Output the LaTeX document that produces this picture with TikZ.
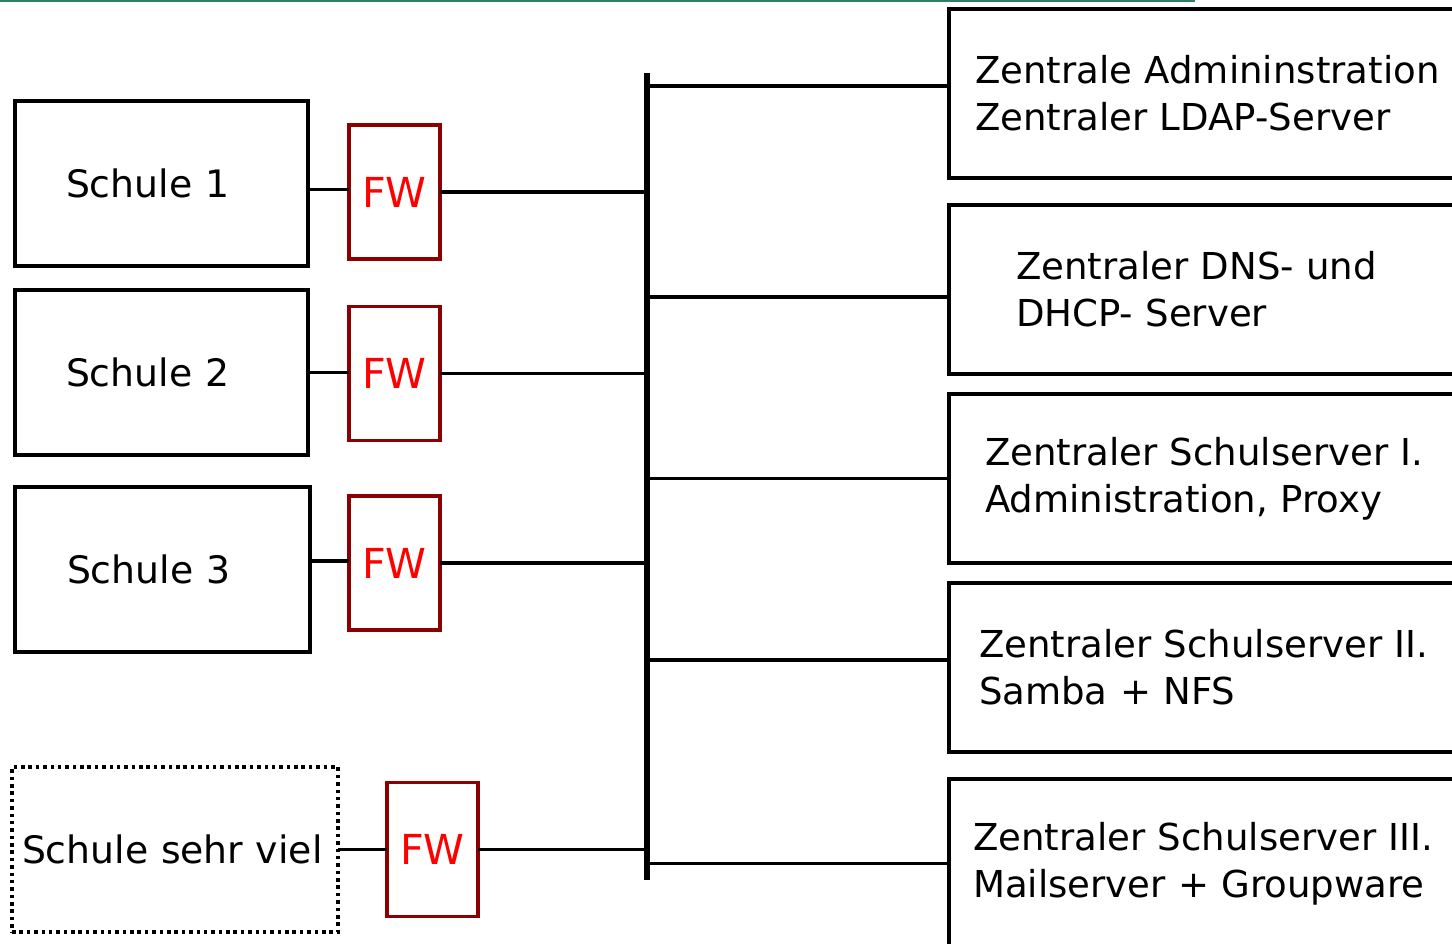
\documentclass[tikz,border=0pt]{standalone}
\usepackage{fontspec}
\setmainfont{DejaVu Sans}
\usetikzlibrary{positioning}
\definecolor{fwframe}{HTML}{8B0000}
\definecolor{fwtext}{HTML}{FF0000}
\definecolor{topline}{HTML}{2E8060}
\tikzset{
  schule/.style={draw,line width=2.2pt,anchor=west,outer sep=0pt,minimum height=3.3cm,
    inner xsep=1.02cm,text width=3.82cm,align=left,font=\fontsize{21.5}{27}\selectfont},
  viele/.style={schule,dash pattern=on 2pt off 2.2pt,inner xsep=.2cm,text width=6.12cm},
  firewall/.style={draw=fwframe,line width=2.2pt,minimum width=1.82cm,minimum height=2.68cm,
    inner sep=0pt,outer sep=0pt,text=fwtext,font=\fontsize{23.5}{28}\selectfont},
  zentral/.style={draw,line width=2.2pt,anchor=west,outer sep=0pt,minimum height=3.38cm,
    text width=10cm,align=left,font=\fontsize{21.1}{26.8}\selectfont},
  link/.style={line width=2.2pt},
  bus/.style={line width=3pt},
}
\begin{document}
\begin{tikzpicture}
  \useasboundingbox (0,0) rectangle (29.04,-18.88);
  \clip (0,0) rectangle (29.04,-18.88);
  \draw[topline,line width=2pt] (0,-.01) -- (23.9,-.01);
  % Schulen
  \node[schule] (s1) at (.3,-3.67) {Schule 1};
  \node[schule] (s2) at (.3,-7.45) {Schule 2};
  \node[schule,inner xsep=1.04cm] (s3) at (.3,-11.39) {Schule 3};
  \node[viele] (sv) at (.24,-16.99) {Schule sehr viel};
  % Firewalls
  \node[firewall] (fw1) at (7.89,-3.84) {FW};
  \node[firewall] (fw2) at (7.89,-7.47) {FW};
  \node[firewall] (fw3) at (7.89,-11.26) {FW};
  \node[firewall] (fw4) at (8.65,-16.99) {FW};
  % Server
  \node[zentral,inner xsep=.52cm] (z1) at (18.98,-1.87) {Zentrale Admininstration\\Zentraler LDAP-Server};
  \node[zentral,inner xsep=1.34cm] (z2) at (18.98,-5.79) {Zentraler DNS- und\\DHCP- Server};
  \node[zentral,inner xsep=.72cm] (z3) at (18.98,-9.57) {Zentraler Schulserver I.\\Administration, Proxy};
  \node[zentral,inner xsep=.6cm] (z4) at (18.98,-13.35) {Zentraler Schulserver II.\\Samba + NFS};
  \node[zentral,inner xsep=.48cm] (z5) at (18.98,-17.27) {Zentraler Schulserver III.\\Mailserver + Groupware};
  % Bus
  \coordinate (bustop) at (12.94,-1.46);
  \coordinate (busbot) at (12.94,-17.6);
  \draw[bus] (bustop) -- (busbot);
  % Verbindungen
  \draw[link] ([yshift=-.12cm]s1.east) -- ([yshift=-.12cm]s1.east -| fw1.west);
  \draw[link] (s2.east) -- (s2.east -| fw2.west);
  \draw[link] ([yshift=.17cm]s3.east) -- ([yshift=.17cm]s3.east -| fw3.west);
  \draw[link] (sv.east) -- (fw4.west);
  \foreach \f in {fw1,fw2,fw3,fw4}
    \draw[link] (\f.east) -- (\f.east -| bustop);
  \draw[link] ([yshift=.15cm]z1.west -| bustop) -- ([yshift=.15cm]z1.west);
  \draw[link] ([yshift=-.15cm]z2.west -| bustop) -- ([yshift=-.15cm]z2.west);
  \draw[link] (z3.west -| bustop) -- (z3.west);
  \draw[link] ([yshift=.15cm]z4.west -| bustop) -- ([yshift=.15cm]z4.west);
  \draw[link] (z5.west -| bustop) -- (z5.west);
\end{tikzpicture}
\end{document}
